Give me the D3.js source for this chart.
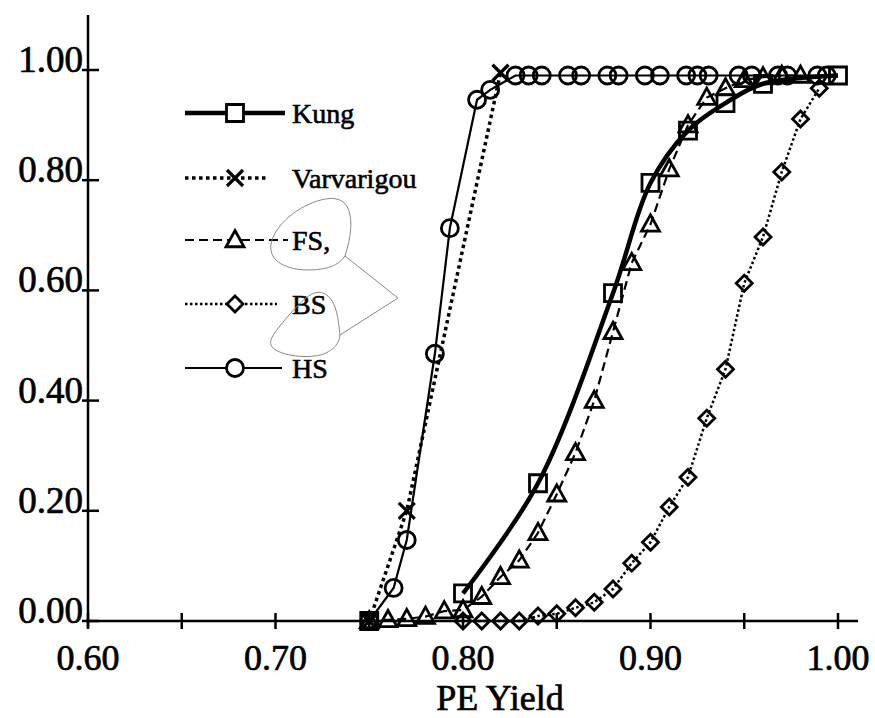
<!DOCTYPE html>
<html>
<head>
<meta charset="utf-8">
<script src="https://cdn.jsdelivr.net/npm/d3@7"></script>
<style>
  body { margin: 0; background: #fff; }
  svg text { font-family: "Liberation Serif", "Times New Roman", serif; fill: #000; }
</style>
</head>
<body>
<div id="chart"></div>
<script>
// values
const xTicks = [0.60, 0.65, 0.70, 0.75, 0.80, 0.85, 0.90, 0.95, 1.00];
const xTickLabels = ['0.60', '', '0.70', '', '0.80', '', '0.90', '', '1.00'];
const yTicks = [0.00, 0.20, 0.40, 0.60, 0.80, 1.00];
const yTickLabels = ['0.00', '0.20', '0.40', '0.60', '0.80', '1.00'];

const kungX = [0.75, 0.80, 0.84, 0.88, 0.90, 0.92, 0.94, 0.96, 1.00];
const kungY = [0.00, 0.05, 0.25, 0.595, 0.795, 0.89, 0.94, 0.975, 0.99];

const varX = [0.75, 0.77, 0.82];
const varY = [0.00, 0.20, 0.995];

const fsX = [0.75, 0.76, 0.77, 0.78, 0.79, 0.80, 0.81, 0.82, 0.83, 0.84, 0.85, 0.86,
             0.87, 0.88, 0.89, 0.90, 0.91, 0.92, 0.93, 0.94, 0.95, 0.96, 0.97, 0.98];
const fsY = [0.00, 0.002, 0.004, 0.008, 0.018, 0.02, 0.044, 0.08, 0.11, 0.16, 0.23, 0.305,
             0.40, 0.525, 0.65, 0.72, 0.82, 0.90, 0.95, 0.967, 0.982, 0.987, 0.99, 0.99];

const bsX = [0.80, 0.81, 0.82, 0.83, 0.84, 0.85, 0.86, 0.87, 0.88, 0.89,
             0.90, 0.91, 0.92, 0.93, 0.94, 0.95, 0.96, 0.97, 0.98, 0.99];
const bsY = [0.00, 0.00, 0.00, 0.00, 0.009, 0.013, 0.024, 0.034, 0.058, 0.105,
             0.143, 0.207, 0.261, 0.368, 0.457, 0.613, 0.697, 0.815, 0.911, 0.967];

const hsX = [0.75, 0.763, 0.770, 0.785, 0.793, 0.8075, 0.8145, 0.828, 0.835, 0.842, 0.856, 0.863,
             0.877, 0.883, 0.897, 0.905, 0.919, 0.925, 0.931, 0.947, 0.954, 0.968, 0.973, 0.989, 0.994];
const hsY = [0.00, 0.06, 0.147, 0.485, 0.713, 0.946, 0.964, 0.99, 0.99, 0.99, 0.99, 0.99,
             0.99, 0.99, 0.99, 0.99, 0.99, 0.99, 0.99, 0.99, 0.99, 0.99, 0.99, 0.99, 0.99];

const seriesNames = ['Kung', 'Varvarigou', 'FS,', 'BS', 'HS'];

// drawing styles per series (same order as seriesNames)
const styles = [
    { shape: 'square',   width: 4.5, dash: null,      curve: d3.curveCatmullRom.alpha(0.5), skip: 1, legend: [185, 285] },
    { shape: 'x',        width: 3.5, dash: '3.5,3.5', curve: d3.curveLinear, skip: 0, legend: [185, 267] },
    { shape: 'triangle', width: 2.2, dash: '9,5',     curve: d3.curveLinear, skip: 0, legend: [185, 288] },
    { shape: 'diamond',  width: 2.5, dash: '2.5,2.5', curve: d3.curveLinear, skip: 0, legend: [185, 277] },
    { shape: 'circle',   width: 2.2, dash: null,      curve: d3.curveLinear, skip: 0, legend: [185, 282] }
];

const seriesData = [
    d3.zip(kungX, kungY),
    d3.zip(varX, varY),
    d3.zip(fsX, fsY),
    d3.zip(bsX, bsY),
    d3.zip(hsX, hsY)
];

const width = 875, height = 718;
const svg = d3.select('#chart').append('svg')
    .attr('width', width)
    .attr('height', height);

const x = d3.scaleLinear().domain([0.60, 1.00]).range([88, 838]);
const y = d3.scaleLinear().domain([0, 1]).range([621, 70]);

// marker shapes, hollow like the original
function markerPath(shape, r) {
    const p = d3.path();
    if (shape === 'square') {
        p.rect(-r, -r, 2 * r, 2 * r);
    } else if (shape === 'triangle') {
        p.moveTo(0, -r * 1.05);
        p.lineTo(r * 1.0, r * 0.75);
        p.lineTo(-r * 1.0, r * 0.75);
        p.closePath();
    } else if (shape === 'diamond') {
        p.moveTo(0, -r); p.lineTo(r, 0); p.lineTo(0, r); p.lineTo(-r, 0); p.closePath();
    } else if (shape === 'circle') {
        p.moveTo(r, 0); p.arc(0, 0, r, 0, 2 * Math.PI);
    } else if (shape === 'x') {
        p.moveTo(-r, -r); p.lineTo(r, r);
        p.moveTo(r, -r); p.lineTo(-r, r);
    }
    return p.toString();
}
const markerSize = { square: 8.5, triangle: 9, diamond: 8, circle: 8.5, x: 8 };

// axes
const axisG = svg.append('g').attr('stroke', '#000').attr('stroke-width', 2.5);
axisG.append('line')
    .attr('x1', x(0.60)).attr('x2', x(0.60))
    .attr('y1', 15).attr('y2', y(0) + 7);
axisG.append('line')
    .attr('x1', x(0.60)).attr('x2', 858)
    .attr('y1', y(0)).attr('y2', y(0));

axisG.selectAll('.xtick').data(xTicks).enter().append('line')
    .attr('x1', d => x(d)).attr('x2', d => x(d))
    .attr('y1', y(0) - 8).attr('y2', y(0) + 8);
axisG.selectAll('.ytick').data(yTicks).enter().append('line')
    .attr('x1', x(0.60) - 6).attr('x2', x(0.60) + 11)
    .attr('y1', d => y(d)).attr('y2', d => y(d));

svg.selectAll('.xlabel').data(xTicks).enter().append('text')
    .attr('x', d => x(d))
    .attr('y', 670)
    .attr('text-anchor', 'middle')
    .attr('stroke', '#000').attr('stroke-width', 0.7)
    .style('font-size', '36px')
    .text((d, i) => xTickLabels[i]);

svg.selectAll('.ylabel').data(yTicks).enter().append('text')
    .attr('x', 83)
    .attr('y', d => y(d) + 2)
    .attr('text-anchor', 'end')
    .attr('stroke', '#000').attr('stroke-width', 0.7)
    .style('font-size', '37px')
    .text((d, i) => yTickLabels[i]);

svg.append('text')
    .attr('x', 500)
    .attr('y', 710)
    .attr('text-anchor', 'middle')
    .attr('stroke', '#000').attr('stroke-width', 0.7)
    .style('font-size', '36px')
    .text('PE Yield');

// series lines and markers
seriesData.forEach((data, i) => {
    const st = styles[i];
    const line = d3.line()
        .defined((d, j) => j >= st.skip)
        .x(d => x(d[0]))
        .y(d => y(d[1]))
        .curve(st.curve);

    svg.append('path')
        .datum(data)
        .attr('fill', 'none')
        .attr('stroke', '#000')
        .attr('stroke-width', st.width)
        .attr('stroke-dasharray', st.dash)
        .attr('d', line);

    svg.append('g').selectAll('path')
        .data(data).enter().append('path')
        .attr('transform', d => `translate(${x(d[0])},${y(d[1])})`)
        .attr('d', markerPath(st.shape, markerSize[st.shape]))
        .attr('fill', 'none')
        .attr('stroke', '#000')
        .attr('stroke-width', st.shape === 'x' ? 3.2 : 2.8);
});

// legend
const legendRows = [113, 178, 240, 304, 368];
seriesNames.forEach((name, i) => {
    const st = styles[i];
    const ly = legendRows[i];
    const g = svg.append('g');
    g.append('line')
        .attr('x1', st.legend[0]).attr('x2', st.legend[1])
        .attr('y1', ly).attr('y2', ly)
        .attr('stroke', '#000')
        .attr('stroke-width', st.width)
        .attr('stroke-dasharray', st.dash);
    g.append('path')
        .attr('transform', `translate(235,${ly})`)
        .attr('d', markerPath(st.shape, markerSize[st.shape]))
        .attr('fill', '#fff')
        .attr('stroke', '#000')
        .attr('stroke-width', st.shape === 'x' ? 3.2 : 2.8);
    g.append('text')
        .attr('x', 292)
        .attr('y', ly + 10)
        .attr('stroke', '#000').attr('stroke-width', 0.6)
        .style('font-size', '28px')
        .text(name);
});

// hand-drawn pen marks on the scan (loops around FS and BS with an arrow)
const scribble = d3.line().curve(d3.curveBasis);
const penMarks = [
    [[345, 256], [335, 268], [300, 272], [272, 262], [268, 240], [290, 212], [328, 195], [350, 202], [352, 232], [345, 256]],
    [[345, 256], [398, 298]],
    [[340, 335], [336, 300], [318, 288], [300, 302], [276, 330], [266, 346], [286, 356], [320, 358], [338, 346], [340, 335]],
    [[340, 335], [398, 298]]
];
svg.append('g').selectAll('path').data(penMarks).enter().append('path')
    .attr('d', d => scribble(d))
    .attr('fill', 'none')
    .attr('stroke', '#888')
    .attr('stroke-width', 1);
</script>
</body>
</html>
